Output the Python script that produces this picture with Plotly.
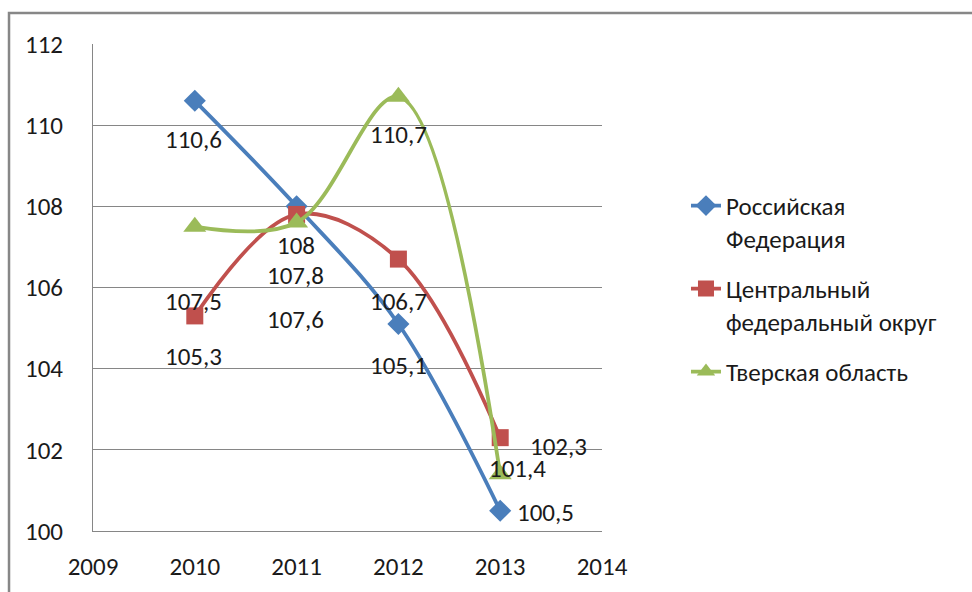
import plotly.graph_objects as go

years = [2010, 2011, 2012, 2013]
series_names = ["Российская<br>Федерация", "Центральный<br>федеральный округ", "Тверская область"]
rf_values = [110.6, 108.0, 105.1, 100.5]
cfo_values = [105.3, 107.8, 106.7, 102.3]
tver_values = [107.5, 107.6, 110.7, 101.4]
label_texts = {
    "rf": ["110,6", "108", "105,1", "100,5"],
    "cfo": ["105,3", "107,8", "106,7", "102,3"],
    "tver": ["107,5", "107,6", "110,7", "101,4"],
}
x_ticks = [2009, 2010, 2011, 2012, 2013, 2014]
y_ticks = [100, 102, 104, 106, 108, 110, 112]

# label pixel offsets (dx right, dy down)
label_offsets = {
    "rf": [(-1, 39), (-1, 39), (0, 41), (45, 2)],
    "cfo": [(-1, 41), (-1, 61), (0, 42), (58, 9)],
    "tver": [(-1, 75), (-1, 97), (0, 38), (17, -6)],
}

FONT = "Carlito, Lato, sans-serif"
styles = {
    "rf": dict(color="#4A7EBB", symbol="diamond", size=17),
    "cfo": dict(color="#C0504D", symbol="square", size=17),
    "tver": dict(color="#9BBB59", symbol="triangle-up", size=20),
}
data = {"rf": rf_values, "cfo": cfo_values, "tver": tver_values}

fig = go.Figure()
for i, key in enumerate(["rf", "cfo", "tver"]):
    st = styles[key]
    fig.add_trace(go.Scatter(
        x=years, y=data[key], name=series_names[i],
        mode="lines+markers",
        line=dict(color=st["color"], width=3.8, shape="spline", smoothing=1.0),
        marker=dict(symbol=st["symbol"], size=st["size"], color=st["color"]),
        legendgroup=key,
    ))

for key in ["rf", "cfo", "tver"]:
    for x, y, t, (dx, dy) in zip(years, data[key], label_texts[key], label_offsets[key]):
        fig.add_annotation(x=x, y=y, text=t, showarrow=False, xshift=dx, yshift=-dy,
                           font=dict(family=FONT, size=25, color="#1a1a1a"))

# chart border (left and top edges)
fig.add_shape(type="path", xref="paper", yref="paper",
              path="M -0.165 -0.2 L -0.165 1.0637 L 1.8 1.0637",
              line=dict(color="#878787", width=2.5))

fig.update_layout(
    width=972, height=592,
    margin=dict(l=93, r=370, t=44, b=61),
    paper_bgcolor="white", plot_bgcolor="white",
    font=dict(family=FONT, size=25, color="#1a1a1a"),
    showlegend=True,
    legend=dict(x=1.165, y=0.715, xanchor="left", yanchor="top",
                valign="top", tracegroupgap=15,
                font=dict(family=FONT, size=25, color="#1a1a1a")),
    xaxis=dict(range=[2009, 2014], tickvals=x_ticks, ticktext=[str(v) for v in x_ticks],
               showgrid=False, zeroline=False, showline=True, linecolor="#868686", linewidth=1,
               ticks="", ticklabelstandoff=13, fixedrange=True, automargin=False),
    yaxis=dict(range=[100, 112], tickvals=y_ticks, showgrid=True, gridcolor="#868686", gridwidth=1,
               zeroline=False, showline=True, linecolor="#868686", linewidth=1,
               ticks="", ticklabelstandoff=24, fixedrange=True, automargin=False),
)

fig.write_html("out.html", config={"displayModeBar": False},
               post_script="document.body.style.margin='0';document.body.style.overflow='hidden';")
